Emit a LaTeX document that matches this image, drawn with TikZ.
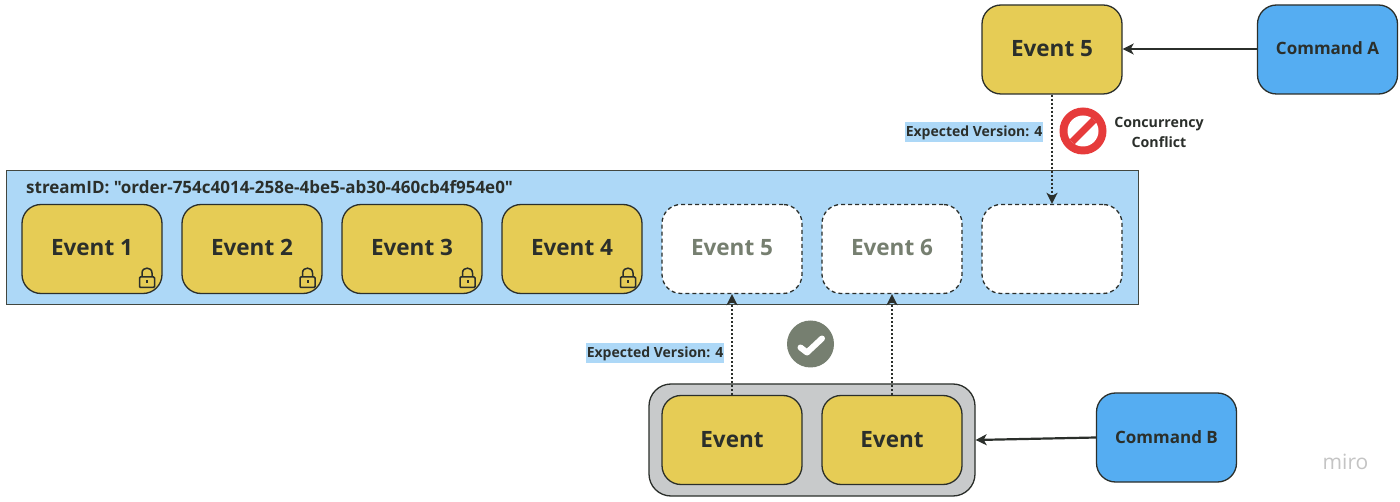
\documentclass[tikz,border=0pt]{standalone}
\usepackage{fontspec}
\setmainfont{Open Sans}
\newfontfamily\plainfont{Open Sans}
\usetikzlibrary{arrows.meta}
\definecolor{evy}{HTML}{E6CC55}
\definecolor{cmdb}{HTML}{55ADF2}
\definecolor{strm}{HTML}{ADD8F7}
\definecolor{grp}{HTML}{C8CACB}
\definecolor{ink}{HTML}{2B2F2B}
\definecolor{mut}{HTML}{767F70}
\definecolor{nored}{HTML}{E63B3B}
\definecolor{wm}{HTML}{C4C4C4}
\tikzset{
 x=1pt,y=-1pt,
 boxbase/.style={rectangle,rounded corners=19pt,minimum width=140pt,minimum height=89pt,inner sep=0pt,draw=ink,line width=1.3pt,text=ink,text height=13.5pt,text depth=0pt,font=\fontsize{22.5}{26}\selectfont\bfseries},
 evbox/.style={boxbase,fill=evy},
 slotbox/.style={boxbase,fill=white,dashed,dash pattern=on 4pt off 3pt,text=mut},
 cmdbox/.style={boxbase,fill=cmdb,text height=9.5pt,font=\fontsize{17}{20}\selectfont\bfseries},
 solidarrow/.style={draw=ink,line width=2.2pt,-{Stealth[length=11pt,width=11pt,inset=3pt]}},
 dotarrow/.style={draw=ink,line width=2pt,dash pattern=on 2pt off 2pt,-{Stealth[length=11pt,width=11pt,inset=3pt]}},
 exlabel/.style={fill=strm,text=ink,inner sep=0pt,minimum width=138pt,minimum height=20pt,text height=10pt,text depth=0pt,font=\fontsize{14}{16}\selectfont\bfseries},
 lockpic/.pic={
  \draw[ink,line width=1.5pt,rounded corners=1pt] (-7.5,-2) rectangle (7.5,8.5);
  \draw[ink,line width=1.5pt] (-5,-2) -- (-5,-6) .. controls (-5,-12.5) and (5,-12.5) .. (5,-6) -- (5,-2);
  \fill[ink] (-1,1.5) rectangle (1,4.5);
 }
}
\begin{document}
\begin{tikzpicture}
\useasboundingbox (0,0) rectangle (1400,502);
\fill[white] (0,0) rectangle (1400,502);
% stream container
\node[rectangle,draw=ink!70!mut,line width=1pt,fill=strm,minimum width=1132pt,minimum height=134pt,inner sep=0pt] (stream) at (572,238) {};
\node[anchor=base west,inner sep=0pt,text=ink,font=\plainfont\fontsize{17}{20}\selectfont\bfseries] (sid) at (26,193.5) {streamID: "order-754c4014-258e-4be5-ab30-460cb4f954e0"};
\node[evbox] (e1) at (92,249) {Event 1};
\node[evbox] (e2) at (252,249) {Event 2};
\node[evbox] (e3) at (412,249) {Event 3};
\node[evbox] (e4) at (572,249) {Event 4};
\node[slotbox] (s5) at (732,249) {Event 5};
\node[slotbox] (s6) at (892,249) {Event 6};
\node[slotbox] (s7) at (1052,249) {};
\pic at (147,279) {lockpic};
\pic at (307.5,279) {lockpic};
\pic at (467.5,279) {lockpic};
\pic at (628,279) {lockpic};
% top
\node[evbox,text height=14.5pt] (top) at (1052,49.5) {Event 5};
\node[cmdbox] (cmda) at (1327.5,49.5) {Command A};
\draw[solidarrow] (cmda.west |- 0,49) -- (top.east |- 0,49);
\draw[dotarrow] (top.south) -- (s7.north);
\node[exlabel] (ex1) at (974,132) {Expected Version: 4};
\fill[nored] (1083,131) circle[radius=23.5pt];
\fill[white] (1083,131) circle[radius=15.5pt];
\draw[nored,line width=7pt] (1072,142) -- (1094,120);
\node[align=center,inner sep=0pt,text=ink,font=\fontsize{14.2}{20}\selectfont\bfseries] (cc) at (1159,132.5) {Concurrency\\Conflict};
% bottom
\node[rectangle,rounded corners=22pt,draw=ink,line width=1.3pt,fill=grp,minimum width=326pt,minimum height=112pt,inner sep=0pt] (grpbox) at (812,440) {};
\node[evbox,text height=14pt] (b1) at (732,440) {Event};
\node[evbox,text height=14pt] (b2) at (892,440) {Event};
\node[cmdbox,text height=11pt] (cmdb) at (1166.5,437.5) {Command B};
\draw[solidarrow] (cmdb.west) -- (grpbox.east);
\draw[dotarrow] (b1.north) -- (s5.south);
\draw[dotarrow] (b2.north) -- (s6.south);
\node[exlabel] (ex2) at (655,353) {Expected Version: 4};
\fill[mut] (810.5,344) circle[radius=23.5pt];
\draw[white,line width=6pt,line cap=round,line join=round] (800.5,347.5) -- (807,352.5) -- (822,338.5);
\node[inner sep=0pt,text=wm,font=\fontsize{21}{24}\selectfont] (wmk) at (1345.5,462) {miro};
\end{tikzpicture}
\end{document}
